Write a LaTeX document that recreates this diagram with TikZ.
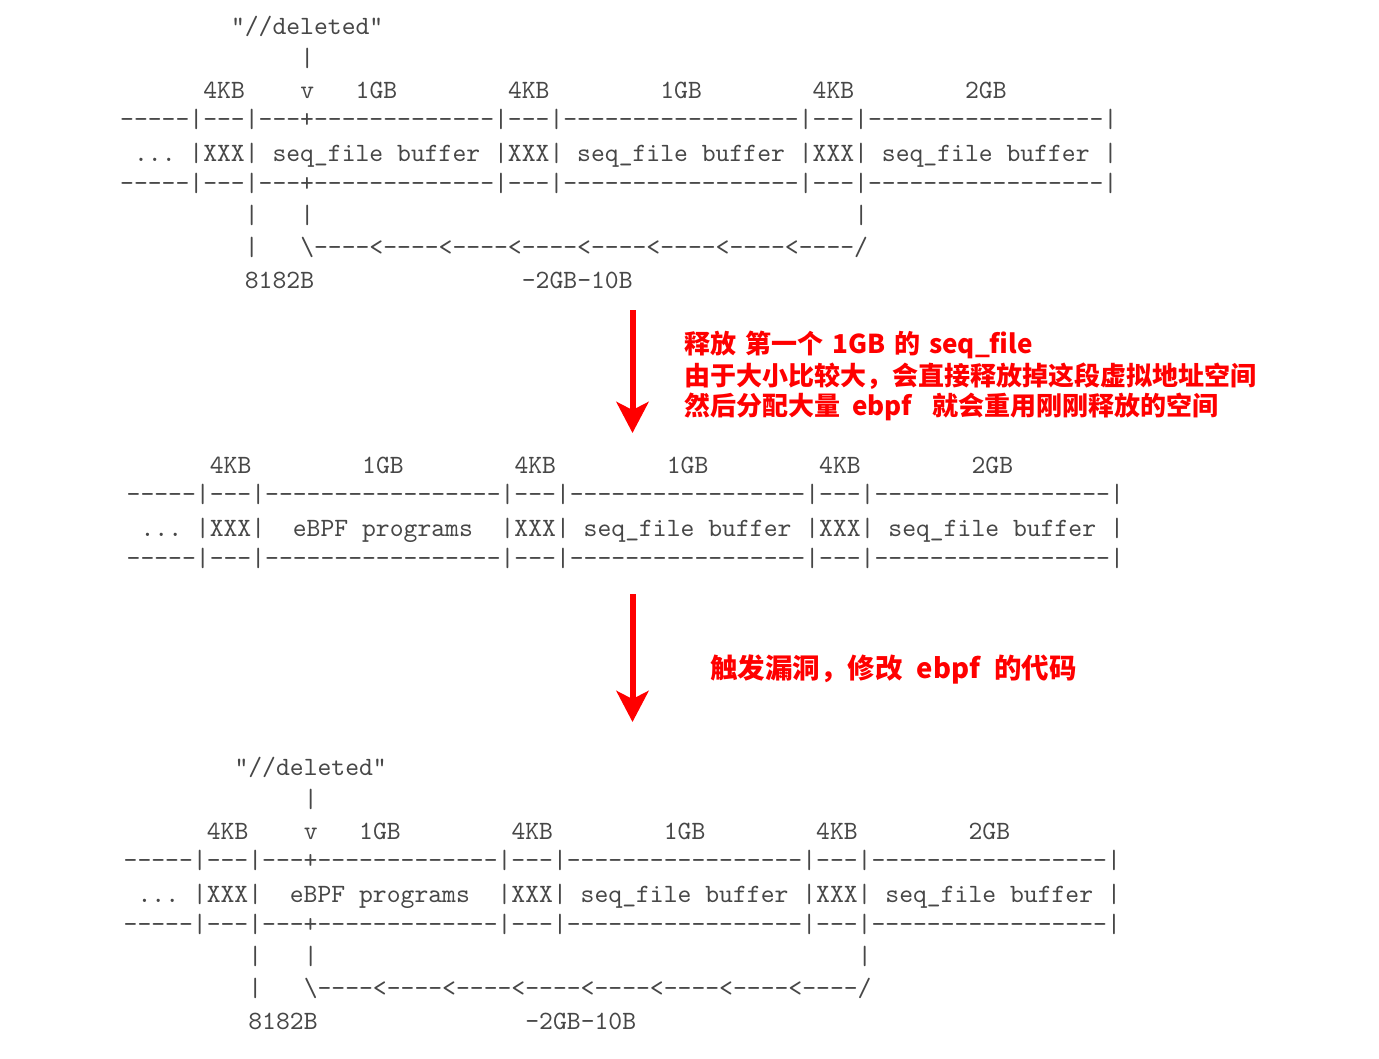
\documentclass[tikz,border=0pt]{standalone}
\usepackage{fontspec}
\newfontfamily\ascfont{lmmono10-regular.otf}[Ligatures=TeXOff]
\newfontfamily\cjkfont{Noto Sans CJK SC}
\usetikzlibrary{arrows.meta}

\newcommand\asccw{13.85}
\newcommand\asctxt[5]{\node[asc] (#1) at ({#2+#3*\asccw},#4) {#5};}
\newcommand\borderP{-----|---|---+-------------|---|-----------------|---|-----------------|}
\newcommand\borderN{-----|---|-----------------|---|-----------------|---|-----------------|}
\newcommand\seqbuf{seq\_file\ buffer}
\newcommand\rowSeq{...\ |XXX|\ \seqbuf\ |XXX|\ \seqbuf\ |XXX|\ \seqbuf\ |}
\newcommand\rowBpf{...\ |XXX|\ \ eBPF\ programs\ \ |XXX|\ \seqbuf\ |XXX|\ \seqbuf\ |}
\newcommand\backrow{|\ \ \ \textbackslash----<----<----<----<----<----<----<----/}

\tikzset{
  asc/.style={inner sep=0pt, anchor=base west, text=black!72,
    font=\ascfont\fontsize{26.38pt}{31pt}\selectfont},
  note/.style={inner sep=0pt, anchor=base west, text=red,
    font=\cjkfont\bfseries\fontsize{26pt}{31pt}\selectfont},
  notebig/.style={note, font=\cjkfont\bfseries\fontsize{27.5pt}{31pt}\selectfont},
  flow/.style={draw=red, line width=6pt,
    -{Stealth[length=31pt,width=32pt,inset=8pt]}}
}

\begin{document}
\begin{tikzpicture}[x=1pt,y=-1pt]
\useasboundingbox[fill=white] (0,0) rectangle (1379,1058);

% ---------- top diagram ----------
\asctxt{tdel}{120}{8}{34}{"//deleted"}
\asctxt{tbar}{120}{13}{66}{|}
\asctxt{tla}{120}{6}{98}{4KB}
\asctxt{tlv}{120}{13}{98}{v}
\asctxt{tlb}{120}{17}{98}{1GB}
\asctxt{tlc}{120}{28}{98}{4KB}
\asctxt{tld}{120}{39}{98}{1GB}
\asctxt{tle}{120}{50}{98}{4KB}
\asctxt{tlf}{120}{61}{98}{2GB}
\asctxt{tbo1}{120}{0}{127}{\borderP}
\asctxt{trow}{120}{1}{161}{\rowSeq}
\asctxt{tbo2}{120}{0}{191}{\borderP}
\asctxt{tpa}{120}{9}{223}{|\ \ \ |}
\asctxt{tpb}{120}{53}{223}{|}
\asctxt{tback}{120}{9}{255}{\backrow}
\asctxt{tsa}{120}{9}{288}{8182B}
\asctxt{tsb}{120}{29}{288}{-2GB-10B}

% ---------- arrow 1 ----------
\coordinate (a1s) at (632.5,310);
\coordinate (a1e) at (632.5,433);
\draw[flow] (a1s) -- (a1e);
\node[note] (n1) at (684,353) {释放\hspace{9pt}第一个\hspace{9pt}1GB\hspace{9pt}的\hspace{9pt}seq\_file};
\node[note] (n2) at (684,385) {由于大小比较大，会直接释放掉这段虚拟地址空间};
\node[note] (n3) at (684,415) {然后分配大量\hspace{12pt}ebpf\hspace{20pt}就会重用刚刚释放的空间};

% ---------- middle diagram ----------
\asctxt{mla}{126.5}{6}{473}{4KB}
\asctxt{mlb}{126.5}{17}{473}{1GB}
\asctxt{mlc}{126.5}{28}{473}{4KB}
\asctxt{mld}{126.5}{39}{473}{1GB}
\asctxt{mle}{126.5}{50}{473}{4KB}
\asctxt{mlf}{126.5}{61}{473}{2GB}
\asctxt{mbo1}{126.5}{0}{502}{\borderN}
\asctxt{mrow}{126.5}{1}{536}{\rowBpf}
\asctxt{mbo2}{126.5}{0}{566}{\borderN}

% ---------- arrow 2 ----------
\coordinate (a2s) at (632.5,594);
\coordinate (a2e) at (632.5,722);
\draw[flow] (a2s) -- (a2e);
\node[notebig] (n4) at (710,678) {触发漏洞，修改\hspace{14pt}ebpf\hspace{14pt}的代码};

% ---------- bottom diagram ----------
\asctxt{bdel}{123.5}{8}{775}{"//deleted"}
\asctxt{bbar}{123.5}{13}{807}{|}
\asctxt{bla}{123.5}{6}{839}{4KB}
\asctxt{blv}{123.5}{13}{839}{v}
\asctxt{blb}{123.5}{17}{839}{1GB}
\asctxt{blc}{123.5}{28}{839}{4KB}
\asctxt{bld}{123.5}{39}{839}{1GB}
\asctxt{ble}{123.5}{50}{839}{4KB}
\asctxt{blf}{123.5}{61}{839}{2GB}
\asctxt{bbo1}{123.5}{0}{868}{\borderP}
\asctxt{brow}{123.5}{1}{902}{\rowBpf}
\asctxt{bbo2}{123.5}{0}{932}{\borderP}
\asctxt{bpa}{123.5}{9}{964}{|\ \ \ |}
\asctxt{bpb}{123.5}{53}{964}{|}
\asctxt{bback}{123.5}{9}{996}{\backrow}
\asctxt{bsa}{123.5}{9}{1029}{8182B}
\asctxt{bsb}{123.5}{29}{1029}{-2GB-10B}
\end{tikzpicture}
\end{document}
